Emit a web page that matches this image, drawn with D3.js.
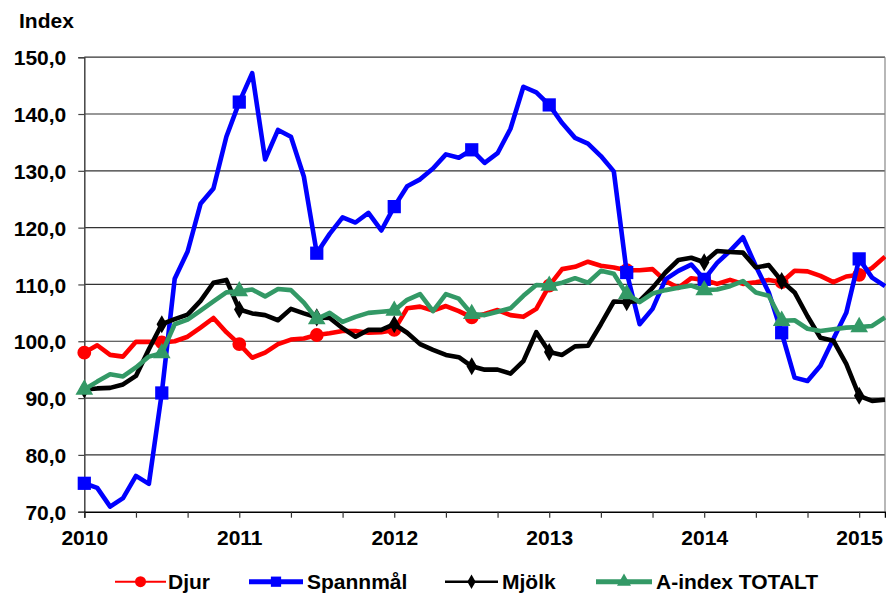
<!DOCTYPE html>
<html>
<head>
<meta charset="utf-8">
<script src="https://cdn.jsdelivr.net/npm/d3@7"></script>
<style>
  html, body { margin: 0; padding: 0; background: #fff; }
  svg { display: block; font-family: "Liberation Sans", Arial, sans-serif; font-weight: bold; }
</style>
</head>
<body>
<svg id="chart" width="886" height="593"></svg>
<script>
// Monthly data, Jan 2010 – Mar 2015
const yearLabels = ["2010", "2011", "2012", "2013", "2014", "2015"];
const yTicks = [70, 80, 90, 100, 110, 120, 130, 140, 150];
const seriesNames = ["Djur", "Spannmål", "Mjölk", "A-index TOTALT"];

const djur = [98.0, 99.3, 97.6, 97.3, 99.9, 99.9, 99.8, 100.0, 100.8, 102.4, 104.1, 101.6,
  99.5, 97.1, 98.0, 99.5, 100.3, 100.5, 101.1, 101.4, 101.8, 101.8, 101.5, 101.6,
  102.0, 105.8, 106.1, 105.4, 106.2, 105.3, 104.2, 104.8, 105.5, 104.6, 104.3, 105.7,
  109.8, 112.7, 113.1, 114.0, 113.3, 113.0, 112.5, 112.5, 112.7, 110.6, 109.4, 111.1,
  110.8, 110.1, 110.8, 110.1, 110.4, 110.8, 110.4, 112.4, 112.3, 111.5, 110.4, 111.4,
  111.7, 112.9, 114.9];

const spannmal = [75.0, 74.2, 70.9, 72.4, 76.3, 74.9, 90.9, 111.0, 115.8, 124.2, 126.9, 136.0,
  142.1, 147.2, 132.0, 137.2, 136.0, 129.0, 115.5, 118.9, 121.8, 120.9, 122.6, 119.5,
  123.7, 127.3, 128.5, 130.4, 132.9, 132.3, 133.7, 131.4, 133.1, 137.4, 144.8, 143.8,
  141.6, 138.4, 135.8, 134.8, 132.6, 129.9, 112.1, 103.0, 105.7, 110.9, 112.4, 113.5,
  110.9, 113.8, 115.9, 118.3, 113.2, 108.6, 101.5, 93.6, 93.0, 95.7, 100.4, 105.0,
  114.5, 111.2, 109.7];

const mjolk = [91.5, 91.7, 91.8, 92.4, 93.9, 98.6, 103.0, 103.9, 104.7, 107.1, 110.3, 110.8,
  105.6, 104.9, 104.6, 103.7, 105.7, 104.9, 104.2, 104.1, 102.3, 100.8, 102.0, 102.0,
  103.0, 101.5, 99.5, 98.5, 97.6, 97.2, 95.6, 95.0, 95.0, 94.3, 96.5, 101.6,
  98.1, 97.6, 99.1, 99.2, 103.0, 107.0, 106.9, 107.1, 109.4, 112.1, 114.3, 114.7,
  113.9, 115.9, 115.7, 115.6, 113.0, 113.4, 110.6, 108.6, 104.4, 100.6, 100.1, 96.0,
  90.4, 89.5, 89.7];

const aindex = [91.5, 92.9, 94.2, 93.8, 95.4, 97.3, 97.9, 103.0, 103.8, 105.4, 107.0, 108.6,
  108.8, 109.1, 107.9, 109.2, 109.0, 106.8, 103.9, 105.0, 103.4, 104.3, 105.0, 105.2,
  105.4, 107.3, 108.3, 105.3, 108.3, 107.5, 104.8, 104.6, 105.2, 105.8, 108.0, 109.9,
  109.8, 110.3, 111.1, 110.3, 112.4, 111.9, 108.3, 106.9, 108.4, 109.0, 109.4, 109.8,
  109.0, 109.1, 109.7, 110.6, 108.6, 108.0, 103.6, 103.7, 102.2, 101.8, 102.1, 102.4,
  102.5, 102.7, 104.2];

const seriesValues = [djur, spannmal, mjolk, aindex];
const colors = ["#ff0000", "#0000ff", "#000000", "#339966"];
const symbols = [d3.symbolCircle, d3.symbolSquare, d3.symbolDiamond, d3.symbolTriangle];
const markerSizes = [150, 175, 95, 135];
const legendMarkerSizes = [95, 105, 60, 85];
const legendLineWidths = [2, 5, 2.5, 5];

const svg = d3.select("#chart");
const plotLeft = 84.3, plotRight = 885, plotTop = 57.2, plotBottom = 511.7;

const x = d3.scaleLinear().domain([0, djur.length - 1]).range([plotLeft, plotRight]);
const y = d3.scaleLinear().domain([70, 150]).range([plotBottom, plotTop]);

// gridlines
svg.append("g").selectAll("line").data(yTicks.slice(1)).join("line")
  .attr("x1", plotLeft).attr("x2", plotRight)
  .attr("y1", d => y(d)).attr("y2", d => y(d))
  .attr("stroke", "#333").attr("stroke-width", 1.2);

// right border
svg.append("line").attr("x1", plotRight).attr("x2", plotRight).attr("y1", plotTop).attr("y2", plotBottom)
  .attr("stroke", "#888").attr("stroke-width", 1.2);

// y axis
const yAxis = d3.axisLeft(y).tickValues(yTicks).tickSize(6).tickPadding(12)
  .tickFormat(d => d3.format(".1f")(d).replace(".", ","));
const gy = svg.append("g").attr("transform", `translate(${plotLeft},0)`).call(yAxis);
gy.select(".domain").attr("stroke", "#444").attr("stroke-width", 1.5);
gy.selectAll(".tick line").attr("stroke", "#444").attr("stroke-width", 1.2);
gy.selectAll(".tick text").attr("font-size", 21).attr("font-weight", "bold")
  .attr("fill", "#000").attr("font-family", "Liberation Sans, Arial, sans-serif")
  .attr("dy", "0.36em");

// x axis
const monthTicks = d3.range(0, djur.length, 4);
const xAxis = d3.axisBottom(x).tickValues(monthTicks).tickSize(6)
  .tickFormat(d => (d % 12 === 0 ? yearLabels[d / 12] : ""));
const gx = svg.append("g").attr("transform", `translate(0,${plotBottom})`).call(xAxis);
gx.select(".domain").attr("stroke", "#000").attr("stroke-width", 1.5);
gx.selectAll(".tick line").attr("stroke", "#333").attr("stroke-width", 1.2);
gx.selectAll(".tick text").attr("font-size", 21).attr("font-weight", "bold")
  .attr("fill", "#000").attr("font-family", "Liberation Sans, Arial, sans-serif")
  .attr("y", 33).attr("dy", 0);

// Index title
svg.append("text").attr("x", 19).attr("y", 28).attr("font-size", 21).text("Index");

// series
const line = d3.line().x((d, i) => x(i)).y(d => y(d));
seriesValues.forEach((vals, s) => {
  const g = svg.append("g");
  g.append("path").datum(vals).attr("d", line)
    .attr("fill", "none").attr("stroke", colors[s]).attr("stroke-width", 4.6)
    .attr("stroke-linejoin", "round");
  const marked = vals.map((v, i) => ({ v, i })).filter(d => d.i % 6 === 0);
  g.selectAll("path.m").data(marked).join("path").attr("class", "m")
    .attr("d", d3.symbol(symbols[s], markerSizes[s]))
    .attr("transform", d => `translate(${x(d.i)},${y(d.v)})`)
    .attr("fill", colors[s]);
});

// legend
const legendItems = [
  { x1: 115, x2: 166, tx: 168 },
  { x1: 249, x2: 303, tx: 307 },
  { x1: 445, x2: 498, tx: 502 },
  { x1: 596, x2: 652, tx: 656 }
];
const ly = 581.7;
legendItems.forEach((it, s) => {
  const g = svg.append("g");
  g.append("line").attr("x1", it.x1).attr("x2", it.x2).attr("y1", ly).attr("y2", ly)
    .attr("stroke", colors[s]).attr("stroke-width", legendLineWidths[s]);
  g.append("path").attr("d", d3.symbol(symbols[s], legendMarkerSizes[s]))
    .attr("transform", `translate(${(it.x1 + it.x2) / 2},${ly})`).attr("fill", colors[s]);
  g.append("text").attr("x", it.tx).attr("y", 589).attr("font-size", 21).text(seriesNames[s]);
});
</script>
</body>
</html>
